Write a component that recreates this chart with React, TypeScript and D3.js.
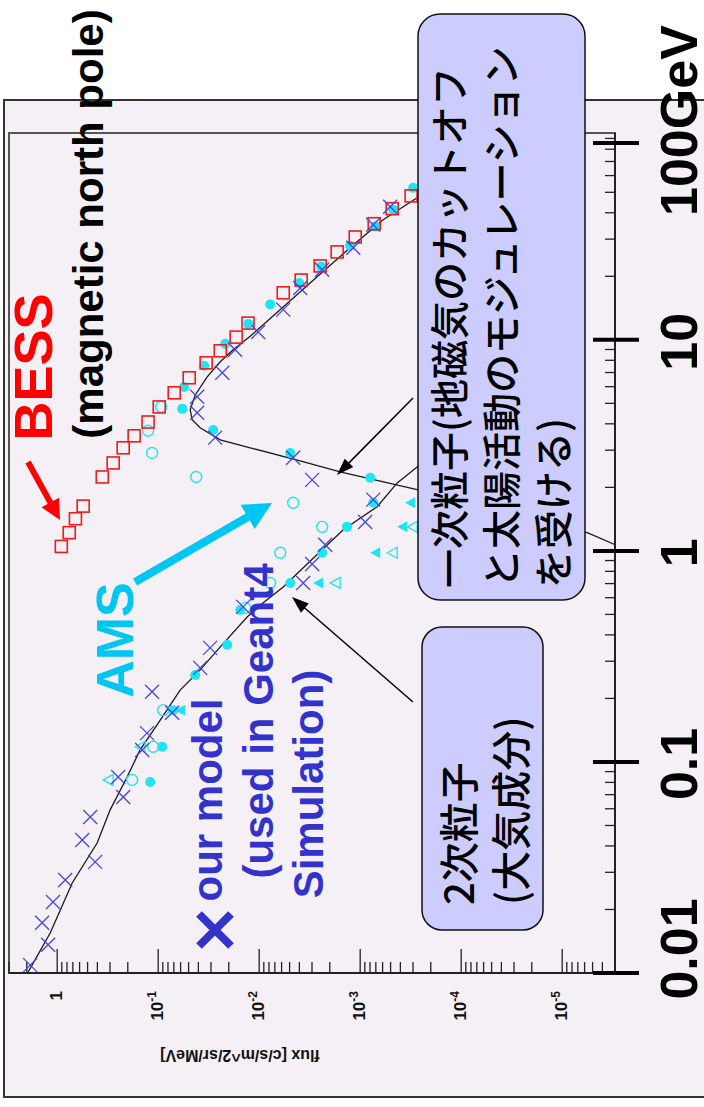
import React from "react";
import * as d3 from "d3";

// ---------------- DATA (flux in c/s/m^2/sr/MeV, energy in GeV) ----------------
const bessEnergy = [1.05, 1.22, 1.42, 1.63, 2.24, 2.61, 3.08, 3.51, 4.08, 4.81, 5.61, 6.61, 7.78, 8.87, 10.3, 12.0, 16.7, 19.2, 22.4, 26.1, 30.7, 35.5, 41.8, 48.1];
const bessFlux = [0.91, 0.76, 0.66, 0.553, 0.358, 0.279, 0.222, 0.173, 0.126, 0.0977, 0.0694, 0.0493, 0.0335, 0.0243, 0.0169, 0.0129, 0.00578, 0.00384, 0.00249, 0.00169, 0.00112, 0.000726, 0.000482, 0.000313];

const amsFilledEnergy = [0.0804, 0.118, 0.176, 0.258, 0.359, 0.525, 0.705, 0.98, 1.30, 1.69, 2.22, 2.91, 3.74, 4.71, 5.98, 7.54, 9.57, 11.9, 14.7, 18.6, 22.2, 27.9, 34.4, 41.3, 52.5];
const amsFilledFlux = [0.120, 0.0912, 0.0710, 0.0430, 0.0207, 0.0154, 0.00493, 0.00238, 0.00135, 0.000743, 0.000796, 0.00493, 0.0285, 0.0578, 0.0553, 0.0351, 0.0217, 0.01285, 0.00778, 0.00402, 0.00243, 0.00126, 0.00071, 0.000471, 0.000299];

const amsOpenEnergy = [0.0822, 0.118, 0.176, 0.537, 0.705, 0.98, 1.30, 1.69, 2.24, 2.91, 3.71, 4.81];
const amsOpenFlux = [0.181, 0.112, 0.0892, 0.01376, 0.00778, 0.00619, 0.00238, 0.00461, 0.0420, 0.115, 0.126, 0.0934];

const amsTriFilledEnergy = [0.176, 0.705, 0.98, 1.30, 1.69];
const amsTriFilledFlux = [0.0606, 0.00261, 0.00071, 0.000384, 0.00032];

const amsTriOpenEnergy = [0.0822, 0.118, 0.705, 0.98, 1.30];
const amsTriOpenFlux = [0.313, 0.151, 0.00177, 0.000482, 0.000305];

const modelEnergy = [0.0109, 0.0136, 0.0173, 0.0217, 0.0276, 0.0336, 0.0427, 0.0548, 0.0682, 0.0849, 0.114, 0.137, 0.171, 0.215, 0.279, 0.347, 0.543, 0.705, 0.867, 1.07, 1.37, 1.75, 2.17, 2.76, 3.44, 4.51, 5.37, 6.98, 8.97, 10.9, 13.9, 17.6, 21.5, 27.3, 35.1, 42.7];
const modelFlux = [1.85, 1.23, 1.41, 1.10, 0.833, 0.421, 0.565, 0.471, 0.222, 0.249, 0.144, 0.129, 0.0727, 0.115, 0.0384, 0.0306, 0.0144, 0.00367, 0.00299, 0.00222, 0.000892, 0.000743, 0.00299, 0.00461, 0.0273, 0.0411, 0.0411, 0.0232, 0.0173, 0.01023, 0.00578, 0.00393, 0.00238, 0.00117, 0.000743, 0.000505];

const primaryCurveEnergy = [1.07, 1.22, 1.95, 2.37, 2.67, 3.08, 3.36, 3.83, 4.18, 4.66, 5.48, 6.68, 7.87, 8.97, 10.4, 14.3, 19.9, 27.3, 37.1, 47.1, 94.6];
const primaryCurveFlux = [2.99e-6, 5.65e-6, 2.73e-4, 1.58e-3, 3.93e-3, 0.01228, 0.0243, 0.0384, 0.0461, 0.0482, 0.0430, 0.0327, 0.0243, 0.0181, 0.01228, 5.78e-3, 2.67e-3, 1.26e-3, 5.92e-4, 2.73e-4, 4.71e-5];

const secondaryCurveEnergy = [0.0101, 0.0155, 0.0267, 0.0413, 0.0593, 0.0849, 0.114, 0.158, 0.219, 0.273, 0.351, 0.486, 0.543, 0.675, 0.877, 1.26, 1.62, 2.10, 2.50, 4.18];
const secondaryCurveFlux = [1.94, 1.17, 0.71, 0.402, 0.299, 0.203, 0.151, 0.0955, 0.0606, 0.0384, 0.0243, 0.01315, 0.01023, 5.78e-3, 3.27e-3, 1.47e-3, 6.79e-4, 4.30e-4, 2.73e-4, 8.15e-5];

const energyTickValues = [0.01, 0.1, 1, 10, 100];
const energyTickLabels = ["0.01", "0.1", "1", "10", "100GeV"];
const fluxTickExponents = [0, -1, -2, -3, -4, -5];
const fluxTitle = "flux [c/s/m^2/sr/MeV]";

// ---------------- LAYOUT ----------------
const W = 704;
const H = 1107;
const plot = { left: 9, top: 133, right: 615, bottom: 973 };

const xF = d3.scaleLog().domain([3, 3e-6]).range([plot.left, plot.right]);
const yE = d3.scaleLog().domain([0.01, 95.5]).range([plot.bottom, plot.top]);

const SANS = "'Liberation Sans', Arial, Helvetica, sans-serif";
const CJK = "'Noto Sans CJK JP', 'Noto Sans CJK SC', sans-serif";
const BG = "#f5f0f5";
const RED = "#ee1c1c";
const CYAN = "#1ee4f4";
const CYAN_TEXT = "#00c6f2";
const BLUE_X = "#4646e0";
const BLUE_TEXT = "#3333cc";
const BOX = "#ccccff";

function Arrow({ x1, y1, x2, y2, w, hl, hw, color }: any) {
  const dx = x2 - x1, dy = y2 - y1;
  const L = Math.hypot(dx, dy);
  const ux = dx / L, uy = dy / L;
  const bx = x2 - ux * hl, by = y2 - uy * hl;
  const px = -uy, py = ux;
  return (
    <g>
      <line x1={x1} y1={y1} x2={bx + ux * 1} y2={by + uy * 1} stroke={color} strokeWidth={w} />
      <polygon
        points={`${x2},${y2} ${bx + (px * hw) / 2},${by + (py * hw) / 2} ${bx - (px * hw) / 2},${by - (py * hw) / 2}`}
        fill={color}
      />
    </g>
  );
}

export default function App() {
  const toPts = (E: number[], F: number[]) => E.map((e, i) => [xF(F[i]), yE(e)] as [number, number]);
  const line = d3.line<[number, number]>();

  const fluxTicks: { v: number; major: boolean }[] = [];
  for (let e = 0; e >= -6; e--) {
    for (let m = 1; m <= 9; m++) {
      const v = m * Math.pow(10, e);
      if (v <= 3.0001 && v >= 3e-6) fluxTicks.push({ v, major: m === 1 });
    }
  }
  const energyTicks: { v: number; major: boolean }[] = [];
  for (let e = -2; e <= 1; e++) {
    for (let m = 1; m <= 9; m++) {
      const v = m * Math.pow(10, e);
      if (v >= 0.01 && v <= 95.5) energyTicks.push({ v, major: m === 1 });
    }
  }

  const energyLabelY = (v: number) => Math.max(yE(v), plot.top + 10);
  const labelPlacement = (i: number) => {
    if (i === 0) return { anchor: "middle", dy: -24 };
    if (i === 4) return { anchor: "start", dy: 73 };
    return { anchor: "middle", dy: 2 };
  };

  const sq = 12;
  const xs = 7;

  return (
    <svg width={W} height={H} style={{ position: "absolute", left: 0, top: 0, background: "#fff" }}>
      <defs>
        <clipPath id="plotclip">
          <rect x={plot.left} y={plot.top} width={plot.right - plot.left} height={plot.bottom - plot.top} />
        </clipPath>
      </defs>
      <rect x={4} y={100} width={740} height={997} fill={BG} stroke="#333" strokeWidth={2} />
      <rect x={plot.left} y={plot.top} width={plot.right - plot.left} height={plot.bottom - plot.top} fill={BG} stroke="#555" strokeWidth={2} />

      <line x1={plot.left} x2={plot.right} y1={plot.bottom} y2={plot.bottom} stroke="#222" strokeWidth={2} />
      {fluxTicks.map((t, i) => (
        <line key={"ft" + i} x1={xF(t.v)} x2={xF(t.v)} y1={plot.bottom} y2={plot.bottom - (t.major ? 24 : 11)} stroke="#222" strokeWidth={1.3} />
      ))}
      <line x1={plot.right} x2={plot.right} y1={plot.top} y2={plot.bottom} stroke="#222" strokeWidth={2} />
      {energyTicks.map((t, i) => (
        <line key={"et" + i} x1={plot.right} x2={plot.right - (t.major ? 22 : 10)} y1={yE(t.v)} y2={yE(t.v)} stroke="#222" strokeWidth={1.3} />
      ))}

      <g clipPath="url(#plotclip)" fill="none" stroke="#1a1a1a" strokeWidth={1.3}>
        <path d={line(toPts(primaryCurveEnergy, primaryCurveFlux)) || ""} />
        <path d={line(toPts(secondaryCurveEnergy, secondaryCurveFlux)) || ""} />
      </g>

      <g clipPath="url(#plotclip)">
        {toPts(amsTriOpenEnergy, amsTriOpenFlux).map(([x, y], i) => (
          <path key={"to" + i} d={`M${x - 5},${y} L${x + 5},${y - 5.5} L${x + 5},${y + 5.5} Z`} fill="none" stroke={CYAN} strokeWidth={1.3} />
        ))}
        {toPts(amsTriFilledEnergy, amsTriFilledFlux).map(([x, y], i) => (
          <path key={"tf" + i} d={`M${x - 5},${y} L${x + 5},${y - 5.5} L${x + 5},${y + 5.5} Z`} fill={CYAN} />
        ))}
        {toPts(amsOpenEnergy, amsOpenFlux).map(([x, y], i) => (
          <circle key={"oc" + i} cx={x} cy={y} r={5.5} fill="none" stroke={CYAN} strokeWidth={1.4} />
        ))}
        {toPts(amsFilledEnergy, amsFilledFlux).map(([x, y], i) => (
          <circle key={"fc" + i} cx={x} cy={y} r={5} fill={CYAN} />
        ))}
        {toPts(bessEnergy, bessFlux).map(([x, y], i) => (
          <rect key={"bs" + i} x={x - sq / 2} y={y - sq / 2} width={sq} height={sq} fill="none" stroke={RED} strokeWidth={1.6} />
        ))}
        {toPts(modelEnergy, modelFlux).map(([x, y], i) => (
          <path key={"mx" + i} d={`M${x - xs},${y - xs} L${x + xs},${y + xs} M${x - xs},${y + xs} L${x + xs},${y - xs}`} stroke={BLUE_X} strokeWidth={1.3} />
        ))}
      </g>

      {fluxTickExponents.map((e) => {
        const x = xF(Math.pow(10, e)) + 5;
        return (
          <text key={"fl" + e} transform={`translate(${x},991) rotate(-90)`} textAnchor="end" fontFamily={SANS} fontWeight="bold" fontSize={17} fill="#111">
            {e === 0 ? "1" : (
              <>
                <tspan>10</tspan>
                <tspan dy={-7} fontSize={12}>{String(e)}</tspan>
              </>
            )}
          </text>
        );
      })}
      <text transform="translate(240,1050) rotate(180)" textAnchor="middle" fontFamily={SANS} fontWeight="bold" fontSize={16} fill="#111">
        {fluxTitle}
      </text>

      {energyTickValues.map((v, i) => {
        const y = energyLabelY(v);
        const p = labelPlacement(i);
        return (
          <g key={"el" + i}>
            <line x1={593} x2={639} y1={y} y2={y} stroke="#000" strokeWidth={4} />
            <text transform={`translate(697,${y + p.dy}) rotate(-90)`} textAnchor={p.anchor} fontFamily={SANS} fontWeight="bold" fontSize={52} fill="#000">
              {energyTickLabels[i]}
            </text>
          </g>
        );
      })}

      <rect x={418} y={14} width={167} height={586} rx={22} fill={BOX} stroke="#111" strokeWidth={1.5} />
      {["一次粒子(地磁気のカットオフ", "と太陽活動のモジュレーション", "を受ける)"].map((s, i) => (
        <text key={"b1" + i} transform={`translate(${447 + i * 52},588) rotate(-90)`} textAnchor="start" dominantBaseline="central" fontFamily={CJK} fontWeight={500} fontSize={39} fill="#000">
          {s}
        </text>
      ))}
      <rect x={422} y={627} width={121} height={303} rx={20} fill={BOX} stroke="#111" strokeWidth={1.5} />
      {["2次粒子", "(大気成分)"].map((s, i) => (
        <text key={"b2" + i} transform={`translate(${457 + i * 52},905) rotate(-90)`} textAnchor="start" dominantBaseline="central" fontFamily={CJK} fontWeight={500} fontSize={40} fill="#000">
          {s}
        </text>
      ))}

      <Arrow x1={413} y1={398} x2={337} y2={475} w={1.5} hl={17} hw={12} color="#000" />
      <Arrow x1={413} y1={702} x2={292} y2={597} w={1.5} hl={17} hw={12} color="#000" />

      <text transform="translate(52,367) rotate(-90)" textAnchor="middle" fontFamily={SANS} fontWeight="bold" fontSize={54} fill="#ff0000">BESS</text>
      <text transform="translate(103,224) rotate(-90)" textAnchor="middle" fontFamily={SANS} fontWeight="bold" fontSize={42} fill="#000">(magnetic north pole)</text>
      <Arrow x1={28} y1={462} x2={60} y2={520} w={6} hl={20} hw={20} color="#ff0000" />

      <text transform="translate(133,640) rotate(-90)" textAnchor="middle" fontFamily={SANS} fontWeight="bold" fontSize={52} fill={CYAN_TEXT}>AMS</text>
      <Arrow x1={135} y1={582} x2={272} y2={503} w={8} hl={28} hw={28} color={CYAN_TEXT} />

      <path d="M199,914 L231,946 M199,946 L231,914" stroke={BLUE_TEXT} strokeWidth={8} />
      <text transform="translate(222,800) rotate(-90)" textAnchor="middle" fontFamily={SANS} fontWeight="bold" fontSize={42} fill={BLUE_TEXT}>our model</text>
      <text transform="translate(273,721) rotate(-90)" textAnchor="middle" fontFamily={SANS} fontWeight="bold" fontSize={42} fill={BLUE_TEXT}>(used in Geant4</text>
      <text transform="translate(323,784) rotate(-90)" textAnchor="middle" fontFamily={SANS} fontWeight="bold" fontSize={42} fill={BLUE_TEXT}>Simulation)</text>
    </svg>
  );
}
